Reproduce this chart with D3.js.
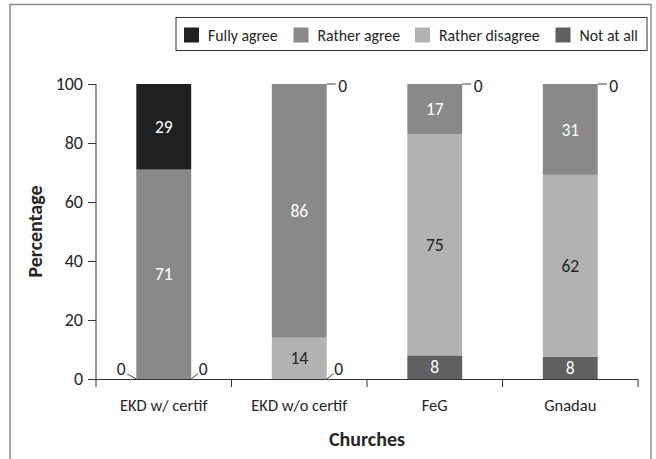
<!DOCTYPE html>
<html>
<head>
<meta charset="utf-8">
<script src="https://cdn.jsdelivr.net/npm/d3@7"></script>
<style>
  html, body { margin: 0; padding: 0; background: #fff; }
  svg { display: block; font-family: Carlito, Lato, sans-serif; }
</style>
</head>
<body>
<svg id="chart" width="656" height="459"></svg>
<script>
// ---- data ----
const categories = ["EKD w/ certif", "EKD w/o certif", "FeG", "Gnadau"];
const legendNames = ["Fully agree", "Rather agree", "Rather disagree", "Not at all"];
const notAtAll       = [0, 0, 8, 7.6];
const ratherDisagree = [0, 14, 75, 61.6];
const ratherAgree    = [71, 86, 17, 30.8];
const fullyAgree     = [29, 0, 0, 0];
const yTicks = [0, 20, 40, 60, 80, 100];
const seriesColors = {
  "Fully agree": "#202020",
  "Rather agree": "#898989",
  "Rather disagree": "#b2b2b2",
  "Not at all": "#606060"
};
const labelColors = {
  "Fully agree": "#ffffff",
  "Rather agree": "#ffffff",
  "Rather disagree": "#262626",
  "Not at all": "#ffffff"
};

// table built from the arrays
const table = categories.map((c, i) => ({
  category: c,
  "Not at all": notAtAll[i],
  "Rather disagree": ratherDisagree[i],
  "Rather agree": ratherAgree[i],
  "Fully agree": fullyAgree[i]
}));
const stackKeys = ["Not at all", "Rather disagree", "Rather agree", "Fully agree"];
const stacked = d3.stack().keys(stackKeys)(table);

const svg = d3.select("#chart");
const textColor = "#262626";
const valueFont = "17.5px";

// outer frame
svg.append("rect")
  .attr("x", 10).attr("y", 4.5).attr("width", 641).attr("height", 470)
  .attr("fill", "none").attr("stroke", "#8c8c8c").attr("stroke-width", 1.5);

const pLeft = 96, pRight = 638, pTop = 84, pBottom = 379;

const x = d3.scaleBand().domain(categories).range([pLeft, pRight])
  .paddingInner(0.595).paddingOuter(0.2975);
const y = d3.scaleLinear().domain([0, 100]).range([pBottom, pTop]);

// bars
const layers = svg.append("g").selectAll("g").data(stacked).join("g")
  .attr("fill", d => seriesColors[d.key]);
layers.selectAll("rect").data(d => d.map(p => ({p, key: d.key})))
  .join("rect")
  .attr("x", d => x(d.p.data.category))
  .attr("width", x.bandwidth())
  .attr("y", d => y(Math.min(100, d.p[1])))
  .attr("height", d => Math.max(0, y(d.p[0]) - y(Math.min(100, d.p[1]))));

// y axis
const yAxis = svg.append("g")
  .attr("transform", `translate(${pLeft},0)`)
  .call(d3.axisLeft(y).tickValues(yTicks).tickSize(8).tickPadding(5).tickFormat(d3.format("d")));
yAxis.select(".domain").attr("stroke", "#333").attr("d", `M0,${pTop}V${pBottom}`);
yAxis.selectAll(".tick line").attr("stroke", "#333");
yAxis.selectAll(".tick text").attr("font-size", "18px").attr("fill", textColor)
  .attr("font-family", "Carlito, Lato, sans-serif");

// x axis (ticks at category boundaries)
const boundaries = categories.map(c => x(c) - x.step() * x.paddingInner() / 2);
boundaries.push(pRight);
const xg = svg.append("g");
xg.append("line").attr("x1", pLeft).attr("x2", pRight).attr("y1", pBottom + 0.5).attr("y2", pBottom + 0.5)
  .attr("stroke", "#333");
xg.selectAll("line.tk").data(boundaries).join("line").attr("class", "tk")
  .attr("x1", d => d).attr("x2", d => d).attr("y1", pBottom).attr("y2", pBottom + 8)
  .attr("stroke", "#333");
xg.selectAll("text").data(categories).join("text")
  .attr("x", d => x(d) + x.bandwidth() / 2).attr("y", 411)
  .attr("text-anchor", "middle").attr("font-size", "16.5px").attr("fill", textColor)
  .text(d => d);

// axis titles
svg.append("text").attr("x", (pLeft + pRight) / 2).attr("y", 446)
  .attr("text-anchor", "middle").attr("font-size", "20px").attr("font-weight", "bold")
  .attr("fill", textColor).text("Churches");
svg.append("text").attr("transform", `translate(42,${(pTop + pBottom) / 2}) rotate(-90)`)
  .attr("text-anchor", "middle").attr("font-size", "20px").attr("font-weight", "bold")
  .attr("fill", textColor).text("Percentage");

// segment labels (non-zero)
const labG = svg.append("g").attr("font-size", valueFont).attr("text-anchor", "middle");
stacked.forEach(layer => {
  layer.forEach(p => {
    const v = p[1] - p[0];
    if (v <= 0) return;
    const y1 = Math.min(100, p[1]);
    labG.append("text")
      .attr("x", x(p.data.category) + x.bandwidth() / 2)
      .attr("y", (y(p[0]) + y(y1)) / 2)
      .attr("dy", "0.35em")
      .attr("fill", labelColors[layer.key])
      .text(Math.round(v));
  });
});

// zero labels with leader lines
const zeroG = svg.append("g");
categories.forEach((c, i) => {
  const bx0 = x(c), bx1 = x(c) + x.bandwidth();
  const zeros = stacked.map(layer => ({key: layer.key, p: layer[i]}))
    .filter(d => d.p[1] - d.p[0] === 0);
  const topZeros = zeros.filter(d => d.p[0] >= 100);
  const bottomZeros = zeros.filter(d => d.p[0] <= 0).reverse();
  topZeros.forEach(d => {
    const yy = y(100);
    zeroG.append("line").attr("x1", bx1).attr("x2", bx1 + 9).attr("y1", yy).attr("y2", yy)
      .attr("stroke", "#404040").attr("stroke-width", 1);
    zeroG.append("text").attr("x", bx1 + 16).attr("y", yy + 2).attr("dy", "0.35em")
      .attr("text-anchor", "middle").attr("font-size", valueFont).attr("fill", textColor).text(Math.round(d.p[1] - d.p[0]));
  });
  bottomZeros.forEach((d, k) => {
    const yy = y(0);
    if (k === 0) {
      zeroG.append("line").attr("x1", bx1).attr("x2", bx1 + 7).attr("y1", yy).attr("y2", yy - 5.5)
        .attr("stroke", "#404040").attr("stroke-width", 1);
      zeroG.append("text").attr("x", bx1 + 12).attr("y", yy - 10.5).attr("dy", "0.35em")
        .attr("text-anchor", "middle").attr("font-size", valueFont).attr("fill", textColor).text(Math.round(d.p[1] - d.p[0]));
    } else {
      zeroG.append("line").attr("x1", bx0).attr("x2", bx0 - 9).attr("y1", yy).attr("y2", yy - 5)
        .attr("stroke", "#404040").attr("stroke-width", 1);
      zeroG.append("text").attr("x", bx0 - 15).attr("y", yy - 10.5).attr("dy", "0.35em")
        .attr("text-anchor", "middle").attr("font-size", valueFont).attr("fill", textColor).text(Math.round(d.p[1] - d.p[0]));
    }
  });
});

// legend
const legend = svg.append("g");
legend.append("rect").attr("x", 176).attr("y", 17.5).attr("width", 471).attr("height", 33)
  .attr("fill", "#fff").attr("stroke", "#333").attr("stroke-width", 1);
const swatchX = [184, 293.5, 415, 555.5];
const li = legend.selectAll("g").data(legendNames).join("g")
  .attr("transform", (d, i) => `translate(${swatchX[i]},27.5)`);
li.append("rect").attr("width", 15).attr("height", 15).attr("fill", d => seriesColors[d]);
li.append("text").attr("x", 24).attr("y", 7.5).attr("dy", "0.35em")
  .attr("font-size", "15.8px").attr("fill", textColor).text(d => d);
</script>
</body>
</html>
